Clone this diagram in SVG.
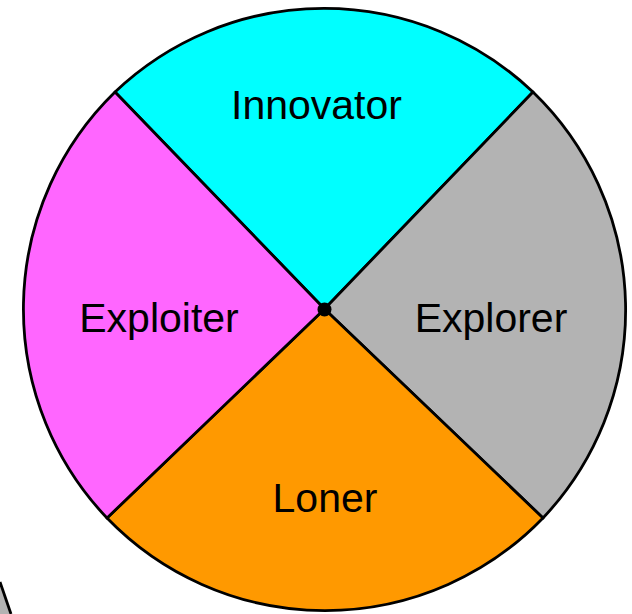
<svg xmlns="http://www.w3.org/2000/svg" width="632" height="614" viewBox="0 0 632 614">
<style>
.sec{stroke:#000;stroke-width:2.8;stroke-linejoin:round}
.lbl{font-family:"Liberation Sans",Arial,sans-serif;font-size:41px;fill:#000;text-anchor:middle}
</style>
<rect width="632" height="614" fill="#fff"/>
<g id="fragment">
<path d="M0,582 L11,614 L0,614 Z" fill="#b3b3b3"/>
<path d="M0,582 L11,614" stroke="#000" stroke-width="2.8" fill="none"/>
</g>
<g id="innovator">
<path class="sec" d="M324.5,309 L115,92 A303,303 0 0 1 533,92 Z" fill="#00ffff"/>
<text class="lbl" x="316.5" y="119">Innovator</text>
</g>
<g id="explorer">
<path class="sec" d="M324.5,309 L533,92 A303,303 0 0 1 543,518 Z" fill="#b3b3b3"/>
<text class="lbl" x="491" y="332">Explorer</text>
</g>
<g id="loner">
<path class="sec" d="M324.5,309 L543,518 A303,303 0 0 1 107,518 Z" fill="#ff9900"/>
<text class="lbl" x="325" y="512">Loner</text>
</g>
<g id="exploiter">
<path class="sec" d="M324.5,309 L107,518 A303,303 0 0 1 115,92 Z" fill="#ff66ff"/>
<text class="lbl" x="159" y="332">Exploiter</text>
</g>
<g id="connectors">
<circle cx="324.5" cy="309.5" r="7" fill="#000"/>
</g>
</svg>
